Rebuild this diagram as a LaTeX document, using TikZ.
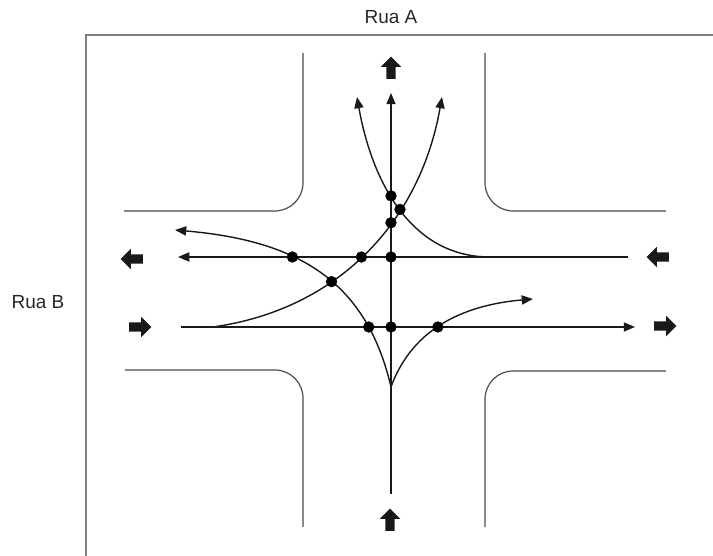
\documentclass[tikz,border=0pt]{standalone}
\usepackage{fontspec}
\setmainfont{Liberation Sans}
\usetikzlibrary{arrows.meta,shapes.arrows,intersections}

\begin{document}
\begin{tikzpicture}[x=0.025cm, y=0.025cm,
    curb/.style={black!70, line width=0.85pt, rounded corners=20pt},
    flow/.style={black!90, line width=1pt, -{Triangle[length=8pt,width=6.5pt]}},
    bigarrow/.style={single arrow, fill=black!90, inner sep=3.1pt, minimum height=15.8pt, single arrow head extend=4.1pt, shape border rotate=#1},
    street/.style={font=\fontsize{13.5pt}{16pt}\selectfont, text=black!85}]
    \useasboundingbox (0,0) rectangle (713,556);
    % Street names and frame
    \node[street] (ruaA) at (391,539) {Rua A};
    \node[street] (ruaB) at (38,254) {Rua B};
    \draw[black!50, line width=1.2pt] (713,521) -- (86,521) -- (86,-5);
    % Kerbs of the crossing
    \draw[curb] (303,503) -- (303,345) -- (124,345);
    \draw[curb] (485,503) -- (485,345) -- (666,345);
    \draw[curb] (125,186) -- (303,186) -- (303,29);
    \draw[curb] (666,185) -- (485,185) -- (485,29);
    % Traffic direction signs
    \node[bigarrow=90] (nSign) at (391,486) {};
    \node[bigarrow=90] (sSign) at (390,34) {};
    \node[bigarrow=180] (wSignOut) at (134,297) {};
    \node[bigarrow=180] (eSignIn) at (660,299) {};
    \node[bigarrow=0] (wSignIn) at (138,229) {};
    \node[bigarrow=0] (eSignOut) at (663,230) {};
    % Ends of the movements
    \coordinate (sIn) at (391,62);
    \coordinate (nOut) at (391,463);
    \coordinate (eIn) at (628,299);
    \coordinate (wOut) at (178,299);
    \coordinate (wIn) at (181,229);
    \coordinate (eOut) at (635,229);
    \coordinate (turn) at (391,169);
    \coordinate (wTurn) at (213,229);
    \coordinate (eTurn) at (490,299);
    \coordinate (nLeft) at (357,459);
    \coordinate (nRight) at (442,459);
    \coordinate (wLeft) at (175,326);
    \coordinate (eRight) at (533,257);
    % Movements
    \draw[flow, name path=vert] (sIn) -- (nOut);
    \draw[flow, name path=top] (eIn) -- (wOut);
    \draw[flow, name path=bot] (wIn) -- (eOut);
    \draw[flow, name path=leftN] (eTurn) to[out=180, in=280] (nLeft);
    \draw[flow, name path=rightN] (wTurn) to[out=8, in=260] (nRight);
    \draw[flow, name path=leftW] (turn) to[out=103, in=-5, looseness=1.1] (wLeft);
    \draw[flow, name path=rightE] (turn) to[out=70, in=185] (eRight);
    % Conflict points
    \path[name intersections={of=leftN and vert, by=c1}];
    \path[name intersections={of=leftN and rightN, by=c2}];
    \path[name intersections={of=rightN and vert, by=c3}];
    \path[name intersections={of=leftW and top, by=c4}];
    \path[name intersections={of=rightN and top, by=c5}];
    \path[name intersections={of=vert and top, by=c6}];
    \path[name intersections={of=leftW and rightN, by=c7}];
    \path[name intersections={of=leftW and bot, by=c8}];
    \path[name intersections={of=vert and bot, by=c9}];
    \path[name intersections={of=rightE and bot, by=c10}];
    \foreach \c in {c1,c2,c3,c4,c5,c6,c7,c8,c9,c10}
        \filldraw (\c) circle (3.8pt);
\end{tikzpicture}
\end{document}
